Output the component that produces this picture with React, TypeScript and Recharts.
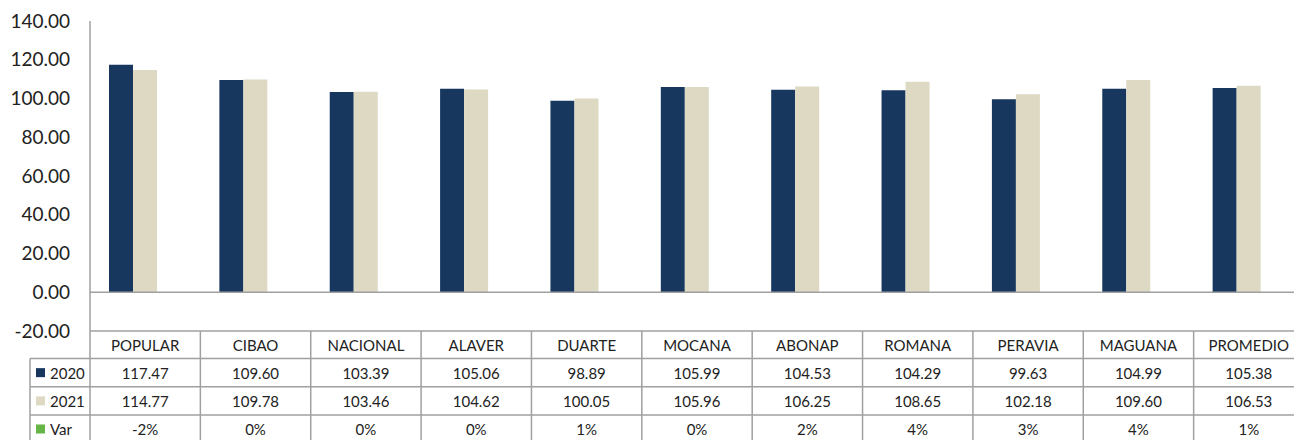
import React from 'react';
import { BarChart, Bar, XAxis, YAxis, ReferenceLine } from 'recharts';

const categories = ['POPULAR', 'CIBAO', 'NACIONAL', 'ALAVER', 'DUARTE', 'MOCANA', 'ABONAP', 'ROMANA', 'PERAVIA', 'MAGUANA', 'PROMEDIO'];
const values2020 = [117.47, 109.6, 103.39, 105.06, 98.89, 105.99, 104.53, 104.29, 99.63, 104.99, 105.38];
const values2021 = [114.77, 109.78, 103.46, 104.62, 100.05, 105.96, 106.25, 108.65, 102.18, 109.6, 106.53];
const varPct = [-2, 0, 0, 0, 1, 0, 2, 4, 3, 4, 1];
const yTicks = [-20, 0, 20, 40, 60, 80, 100, 120, 140];

const series = [
  { key: 'y2020', name: '2020', color: '#17375E' },
  { key: 'y2021', name: '2021', color: '#DDD9C3' },
  { key: 'var', name: 'Var', color: '#66B446' },
];

// var se grafica como fracción (igual que en Excel), por eso casi no se ve
const data = categories.map((c, i) => ({
  name: c,
  y2020: values2020[i],
  y2021: values2021[i],
  var: varPct[i] / 100,
}));

const FONT = 'Lato, "Liberation Sans", sans-serif';
const LINE = '#A0A0A0';
const TEXT = '#222222';
const ROWS = [27.5, 55.8, 84, 112]; // bordes de fila, relativos al eje X

const TableTick = (props: any) => {
  const { x, y, payload } = props;
  const i = payload.index;
  const half = payload.offset > 0 ? payload.offset : 55.2;
  const left = x - half;
  const right = x + half;
  const cells = [values2020[i].toFixed(2), values2021[i].toFixed(2), `${varPct[i]}%`];
  const rowTops = [0, ...ROWS];

  return (
    <g>
      <line x1={left} y1={y} x2={left} y2={y + ROWS[3]} stroke={LINE} strokeWidth={1.5} />
      {i === categories.length - 1 && (
        <line x1={right} y1={y} x2={right} y2={y + ROWS[3]} stroke={LINE} strokeWidth={1.5} />
      )}
      {ROWS.slice(0, 3).map((r) => (
        <line key={r} x1={left} y1={y + r} x2={right} y2={y + r} stroke={LINE} strokeWidth={1.5} />
      ))}
      <text x={x} y={y + ROWS[0] / 2} textAnchor="middle" dominantBaseline="central" fill={TEXT} fontSize={15} fontFamily={FONT}>
        {categories[i]}
      </text>
      {cells.map((c, k) => (
        <text
          key={k}
          x={x}
          y={y + (rowTops[k + 1] + rowTops[k + 2]) / 2}
          textAnchor="middle"
          dominantBaseline="central"
          fill={TEXT}
          fontSize={15}
          fontFamily={FONT}
        >
          {c}
        </text>
      ))}
      {i === 0 && (
        <g>
          <line x1={30} y1={y + ROWS[0]} x2={30} y2={y + ROWS[3]} stroke={LINE} strokeWidth={1.5} />
          {ROWS.slice(0, 3).map((r) => (
            <line key={r} x1={30} y1={y + r} x2={left} y2={y + r} stroke={LINE} strokeWidth={1.5} />
          ))}
          {series.map((s, k) => {
            const cy = y + (rowTops[k + 1] + rowTops[k + 2]) / 2;
            return (
              <g key={s.key}>
                <rect x={36} y={cy - 4.5} width={9} height={9} fill={s.color} />
                <text x={50} y={cy} dominantBaseline="central" fill={TEXT} fontSize={15} fontFamily={FONT}>
                  {s.name}
                </text>
              </g>
            );
          })}
        </g>
      )}
    </g>
  );
};

export default function App() {
  return (
    <div style={{ position: 'absolute', left: 0, top: 0, width: 1294, height: 440, overflow: 'hidden', background: '#fff', fontFamily: FONT }}>
      <BarChart width={1304} height={440} data={data} margin={{ top: 21, right: 0, bottom: 0, left: 0 }} barSize={24} barGap={0}>
        <YAxis
          type="number"
          domain={[-20, 140]}
          ticks={yTicks}
          width={90}
          tickSize={0}
          tickMargin={20}
          tickLine={false}
          axisLine={{ stroke: LINE, strokeWidth: 1.5 }}
          tick={{ fill: TEXT, fontSize: 19, fontFamily: FONT }}
          tickFormatter={(v: number) => v.toFixed(2)}
        />
        <XAxis
          dataKey="name"
          height={109}
          interval={0}
          tickSize={0}
          tickMargin={0}
          tickLine={false}
          axisLine={{ stroke: LINE, strokeWidth: 1.5 }}
          tick={<TableTick />}
        />
        <ReferenceLine y={0} stroke={LINE} strokeWidth={1.5} />
        {series.map((s) => (
          <Bar key={s.key} dataKey={s.key} name={s.name} fill={s.color} isAnimationActive={false} />
        ))}
      </BarChart>
    </div>
  );
}
